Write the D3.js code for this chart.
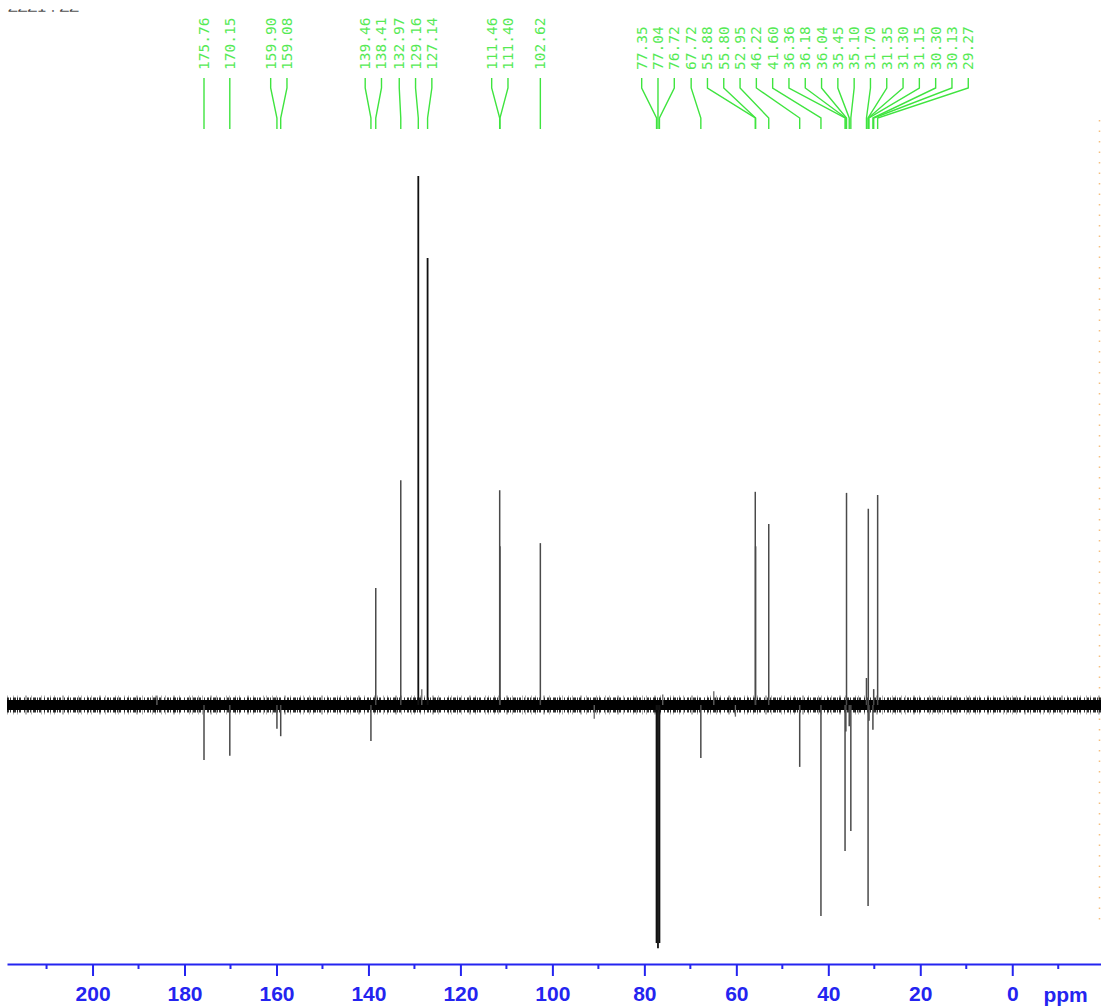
<!DOCTYPE html>
<html>
<head>
<meta charset="utf-8">
<script src="https://cdn.jsdelivr.net/npm/d3@7"></script>
<style>
  html, body { margin: 0; padding: 0; background: #fff; }
  svg { display: block; }
</style>
</head>
<body>
<svg id="chart" width="1101" height="1007"></svg>
<script>
// ---------------- data ----------------
const ppmDomain = [218.6, -19.3];
const intensityDomain = [-50, 100];

// peak positions (ppm) and relative intensities (APT/DEPT style, + up / - down)
const peakPpm = [175.76, 170.15, 159.90, 159.08, 139.46, 138.41, 132.97, 129.16, 127.14,
  111.46, 111.40, 102.62, 77.35, 77.04, 76.72, 67.72, 55.88, 55.80, 52.95, 46.22, 41.60,
  36.36, 36.18, 36.04, 35.45, 35.10, 31.70, 31.35, 31.30, 31.15, 30.30, 30.13, 29.27];
const peakIntensity = [-10.4, -9.6, -4.5, -5.9, -6.8, 22.1, 42.5, 100, 84.5,
  40.6, 30, 30.6, -45, -46, -45, -10, 40.3, 30, 34.2, -11.7, -39.9,
  -27.6, -5, 40.1, -4, -23.8, 5.1, -38, 37.1, -3, -4.7, 3, 39.7];

// small unlabelled baseline spikes
const spikePpm = [128.4, 90.9, 64.9, 76.0, 60.2, 186.0];
const spikeIntensity = [3.0, -2.6, 2.6, 2.0, -2.2, 1.8];

// picked-peak labels
const labelPpm = [175.76, 170.15, 159.90, 159.08, 139.46, 138.41, 132.97, 129.16, 127.14,
  111.46, 111.40, 102.62, 77.35, 77.04, 76.72, 67.72, 55.88, 55.80, 52.95, 46.22, 41.60,
  36.36, 36.18, 36.04, 35.45, 35.10, 31.70, 31.35, 31.30, 31.15, 30.30, 30.13, 29.27];
const labelText = labelPpm.map(v => v.toFixed(2));

// axis ticks
const majorTicks = [200, 180, 160, 140, 120, 100, 80, 60, 40, 20, 0];
const minorTicks = [210, 190, 170, 150, 130, 110, 90, 70, 50, 30, 10, -10];
const axisUnit = "ppm";
const unitPos = -11.6;
const titleText = "ZZZ1 . ZZ";

// ---------------- drawing ----------------
const svg = d3.select("#chart");
const x = d3.scaleLinear().domain(ppmDomain).range([7, 1101]);
const y = d3.scaleLinear().domain(intensityDomain).range([969.5, 176]);

// clipped title remnant at top-left (cut off at the top edge, as in the reference)
svg.append("clipPath").attr("id", "titleClip")
  .append("rect").attr("x", 0).attr("y", 9.2).attr("width", 140).attr("height", 2.6);
svg.append("text")
  .attr("x", 8).attr("y", 11.6)
  .attr("clip-path", "url(#titleClip)")
  .attr("font-family", "Liberation Sans, Arial, sans-serif")
  .attr("font-size", 16).attr("fill", "#444")
  .text(titleText);

// orange dotted marker at right edge
svg.append("line")
  .attr("x1", 1099.5).attr("x2", 1099.5).attr("y1", 120).attr("y2", 925)
  .attr("stroke", "#f2a54a").attr("stroke-width", 1.5)
  .attr("stroke-dasharray", "1.5 9").attr("opacity", 0.7);

// baseline noise band
const baseLine = d3.line().x(d => x(d[0])).y(d => y(d[1]));
const baseD = baseLine([[ppmDomain[0], 0], [ppmDomain[1], 0]]);
svg.append("path").attr("d", baseD)
  .attr("stroke", "#000").attr("stroke-width", 19).attr("opacity", 0.3)
  .attr("stroke-dasharray", "1 5 1 3 1 7 2 4 1 9 1 2").attr("fill", "none");
svg.append("path").attr("d", baseD)
  .attr("stroke", "#000").attr("stroke-width", 15).attr("opacity", 0.8)
  .attr("stroke-dasharray", "2 1 1 2 3 1 1 1 2 3 1 2").attr("fill", "none");
svg.append("path").attr("d", baseD)
  .attr("stroke", "#000").attr("stroke-width", 10).attr("fill", "none");

// spikes
const spikes = spikePpm.map((p, i) => ({ p, v: spikeIntensity[i] }));
svg.append("g").selectAll("path").data(spikes).join("path")
  .attr("d", d => baseLine([[d.p, 0], [d.p, d.v]]))
  .attr("stroke", "#666").attr("stroke-width", 1.3).attr("fill", "none");

// peaks
const peaks = peakPpm.map((p, i) => ({ p, v: peakIntensity[i] }));
svg.append("g").selectAll("path").data(peaks).join("path")
  .attr("d", d => baseLine([[d.p, 0], [d.p, d.v]]))
  .attr("stroke", d => Math.abs(d.v) > 44 ? "#111" : "#4a4a4a")
  .attr("stroke-width", d => Math.abs(d.v) > 44 ? 1.8 : 1.5)
  .attr("fill", "none");

// ---------------- peak labels with decluttering ----------------
const spacing = 16.3;
let items = labelPpm.map((p, i) => ({ p, t: labelText[i], px: x(p) }))
  .sort((a, b) => a.px - b.px);
let clusters = items.map(it => ({ members: [it], center: it.px }));
let merged = true;
while (merged) {
  merged = false;
  for (let i = 0; i < clusters.length - 1; i++) {
    const a = clusters[i], b = clusters[i + 1];
    const aEnd = a.center + (a.members.length - 1) / 2 * spacing;
    const bStart = b.center - (b.members.length - 1) / 2 * spacing;
    if (bStart - aEnd < spacing) {
      const members = a.members.concat(b.members);
      clusters.splice(i, 2, { members, center: d3.mean(members, m => m.px) });
      merged = true;
      break;
    }
  }
}
clusters.forEach(c => {
  c.members.forEach((m, j) => {
    m.lx = c.center + (j - (c.members.length - 1) / 2) * spacing;
  });
});

const green = "#3fe43f";
const lg = svg.append("g");
const leader = d3.line();
lg.selectAll("path").data(items).join("path")
  .attr("d", d => leader([[d.lx, 78], [d.lx, 88], [d.px, 118], [d.px, 129]]))
  .attr("stroke", green).attr("stroke-width", 1.4).attr("fill", "none");
lg.selectAll("text").data(items).join("text")
  .attr("transform", d => `translate(${d.lx},70) rotate(-90)`)
  .attr("text-anchor", "start")
  .attr("dominant-baseline", "central")
  .attr("font-family", "DejaVu Sans Mono, monospace")
  .attr("font-size", 14.5)
  .attr("fill", "#55ea55")
  .text(d => d.t);

// ---------------- axis ----------------
const axisY = 964;
const blue = "#2424f0";
const ax = svg.append("g").attr("transform", `translate(0,${axisY})`);
ax.call(d3.axisBottom(x).tickValues(majorTicks).tickSize(12).tickSizeOuter(0)
  .tickPadding(10.5).tickFormat(d3.format("d")));
ax.select(".domain").attr("stroke", blue).attr("stroke-width", 2);
ax.selectAll(".tick line").attr("stroke", blue).attr("stroke-width", 2);
ax.selectAll(".tick text")
  .attr("fill", blue)
  .attr("font-family", "Liberation Sans, Arial, sans-serif")
  .attr("font-weight", "bold")
  .attr("font-size", 21);
ax.selectAll(".minor").data(minorTicks).join("line")
  .attr("class", "minor")
  .attr("x1", d => x(d)).attr("x2", d => x(d))
  .attr("y1", 0).attr("y2", 5)
  .attr("stroke", blue).attr("stroke-width", 2);
ax.append("text")
  .attr("x", x(unitPos)).attr("y", 37.7)
  .attr("text-anchor", "middle")
  .attr("fill", blue)
  .attr("font-family", "Liberation Sans, Arial, sans-serif")
  .attr("font-weight", "bold")
  .attr("font-size", 21)
  .text(axisUnit);
</script>
</body>
</html>
